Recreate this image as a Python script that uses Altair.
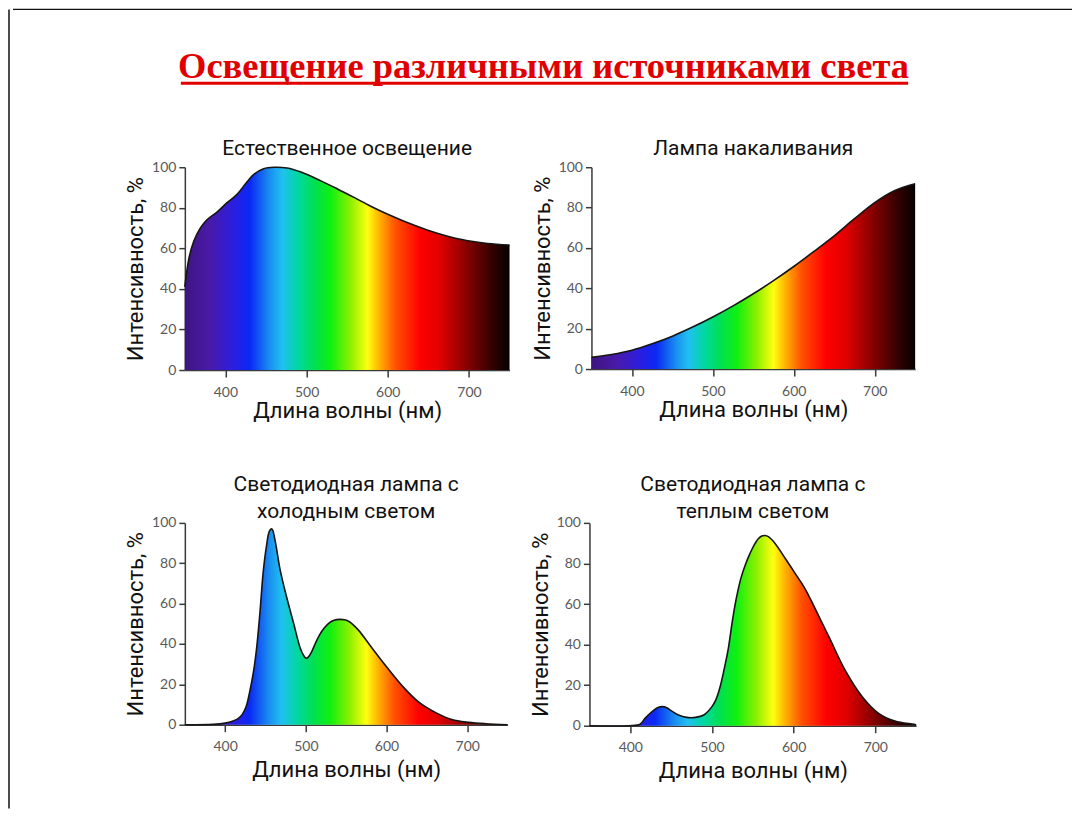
import altair as alt
import pandas as pd

# ---------------- text ----------------
MAIN_TITLE = "Освещение различными источниками света"
X_TITLE = "Длина волны (нм)"
Y_TITLE = "Интенсивность, %"
PANEL_TITLES = [
    "Естественное освещение",
    "Лампа накаливания",
    ["Светодиодная лампа с", "холодным светом"],
    ["Светодиодная лампа с", "теплым светом"],
]
X_TICKS = [400, 500, 600, 700]
Y_TICKS = [0, 20, 40, 60, 80, 100]

# ---------------- data ----------------
day_nm = [350, 355, 361, 369, 377, 390, 402, 414, 427, 435, 447, 460, 476, 493,
          517, 538, 559, 579, 600, 620, 641, 662, 682, 703, 723, 750]
day_val = [41, 55, 63.5, 70, 74, 78, 82.5, 86.5, 93, 96.5, 99.3, 100, 99.6, 97.6,
           93.4, 89.3, 85, 80.8, 76.8, 73.4, 70.2, 67.3, 65.1, 63.5, 62.4, 61.6]

inc_nm = [350, 375, 400, 425, 450, 475, 500, 525, 550, 575, 600, 625, 650, 675,
          700, 725, 750]
inc_val = [5.8, 7.2, 9.3, 12.5, 16.3, 20.8, 25.8, 31.3, 37.3, 43.8, 50.8, 58.3,
           66, 74.5, 82.5, 88.5, 91.8]

cold_nm = [350, 385, 400, 409, 416, 421, 426, 430, 435, 439, 443, 447, 451, 455,
           458, 462, 468, 476, 485, 493, 497, 500, 503, 507, 512, 517, 523, 529,
           535, 542, 548, 554, 560, 566, 582, 599, 620, 640, 661, 681, 702, 723, 750]
cold_val = [0, 0.2, 0.8, 1.7, 3, 5, 9, 15.5, 26, 38, 55, 75, 88, 96,
            97, 91, 77, 63.5, 50, 38, 34.5, 33, 33.5, 36, 40.5, 44.5, 48, 50.5,
            51.8, 52.2, 52, 51, 49, 46.5, 38, 29.2, 19, 11.2, 6, 2.6, 1.2, 0.5, 0]

warm_nm = [350, 398, 412, 418, 424, 429, 434, 439, 444, 449, 459, 469, 480, 490,
           500, 505, 510, 515, 520, 524, 528, 532, 536, 541, 545, 549, 553, 557,
           561, 565, 569, 577, 590, 602, 614, 626, 643, 663, 684, 704, 724, 745, 750]
warm_val = [0, 0, 0.7, 3.6, 6, 7.7, 9, 9.4, 9, 7.7, 5.3, 4.1, 4.1, 5.3,
            9.4, 13, 19.2, 28, 38, 49, 59, 67, 73.5, 79.5, 83.5, 87, 90, 92.3,
            93.5, 93.8, 93.2, 90, 82.3, 75, 67.5, 58, 44, 27.4, 14.3, 6.1, 2.3, 0.8, 0.5]

# spectrum colours along the wavelength axis
SPECTRUM_NM = [350, 380, 410, 430, 455, 470, 490, 510, 530, 555, 575, 590, 610,
               640, 665, 700, 730, 750]
SPECTRUM_COLORS = ["#3d1580", "#4a1aa8", "#2b1ee0", "#0a28f5", "#1a90f0", "#20c0f0",
                   "#00d8a0", "#00e050", "#10f010", "#90f000", "#ffff10", "#ffb000",
                   "#ff5000", "#ff0000", "#e00000", "#800000", "#300000", "#050000"]

NM_MIN, NM_MAX = 350, 750

grad = alt.Gradient(
    gradient="linear",
    stops=[alt.GradientStop(color=c, offset=(n - NM_MIN) / (NM_MAX - NM_MIN))
           for n, c in zip(SPECTRUM_NM, SPECTRUM_COLORS)],
    x1=0, x2=1, y1=0, y2=0,
)


def panel(nm, val, title, width, height, title_offset, x_title_pad):
    df = pd.DataFrame({"nm": nm, "val": val})
    return alt.Chart(df).mark_area(
        color=grad, opacity=1, fillOpacity=1, interpolate="catmull-rom",
        line=alt.OverlayMarkDef(color="#151515", strokeWidth=1.6),
    ).encode(
        x=alt.X("nm:Q", scale=alt.Scale(domain=[NM_MIN, NM_MAX], nice=False, zero=False),
                axis=alt.Axis(values=X_TICKS, title=X_TITLE, titlePadding=x_title_pad)),
        y=alt.Y("val:Q", scale=alt.Scale(domain=[0, 100], nice=False),
                axis=alt.Axis(values=Y_TICKS, title=Y_TITLE)),
    ).properties(
        width=width, height=height,
        title=alt.TitleParams(title, offset=title_offset, lineHeight=27),
    )


def spacer(w):
    return alt.Chart(pd.DataFrame({"a": [0]})).mark_point(opacity=0).encode(
        x=alt.value(0), y=alt.value(0)).properties(width=w, height=10)


p1 = panel(day_nm, day_val, PANEL_TITLES[0], 325, 203, 1, 2)
p2 = panel(inc_nm, inc_val, PANEL_TITLES[1], 324, 202, 1, 2)
p3 = panel(cold_nm, cold_val, PANEL_TITLES[2], 323, 202, -6, 6)
p4 = panel(warm_nm, warm_val, PANEL_TITLES[3], 327, 203, -6, 6)

row1 = alt.hconcat(spacer(94), p1, p2, spacing=17)
row2 = alt.hconcat(spacer(94), p3, p4, spacing=17)

tdf = pd.DataFrame({"t": [MAIN_TITLE]})
title_text = alt.Chart(tdf).mark_text(
    font="Liberation Serif", fontSize=36.5, fontWeight="bold", color="#e00000",
    baseline="alphabetic", align="center",
).encode(text="t:N", x=alt.value(531), y=alt.value(69))
underline = alt.Chart(tdf).mark_rule(color="#e00000", strokeWidth=3).encode(
    x=alt.value(168), x2=alt.value(896), y=alt.value(74))
topline = alt.Chart(tdf).mark_rule(color="#111111", strokeWidth=1.5).encode(
    x=alt.value(0), x2=alt.value(1060), y=alt.value(0))
title_view = alt.layer(topline, title_text, underline).properties(width=1060, height=110)

border = alt.Chart(tdf).mark_rule(color="#111111", strokeWidth=1.5).encode(
    x=alt.value(0), y=alt.value(0), y2=alt.value(800)).properties(width=1, height=800)

rows = alt.vconcat(row1, row2, spacing=52)
content = alt.vconcat(title_view, rows, spacing=19)

chart = alt.hconcat(border, content, spacing=0).properties(
    padding={"left": 0, "top": 0, "right": 0, "bottom": 0},
    background="white",
).configure_view(stroke=None).configure_axis(
    grid=False, domainColor="#3a3a3a", domainWidth=1.5, tickColor="#3a3a3a",
    tickWidth=1.5, labelColor="#5a5a5a", labelFont="Lato", labelFontSize=14,
    titleFont="Roboto", titleColor="#111111", titleFontWeight="normal",
).configure_axisX(
    titleFontSize=22, tickSize=7, labelPadding=8,
).configure_axisY(
    titleFontSize=22, tickSize=6, labelPadding=3, titlePadding=4,
).configure_title(
    font="Roboto", fontSize=21, fontWeight="normal", color="#111111", anchor="middle",
)

chart.save("out.html", embed_options={"renderer": "svg", "actions": False})
